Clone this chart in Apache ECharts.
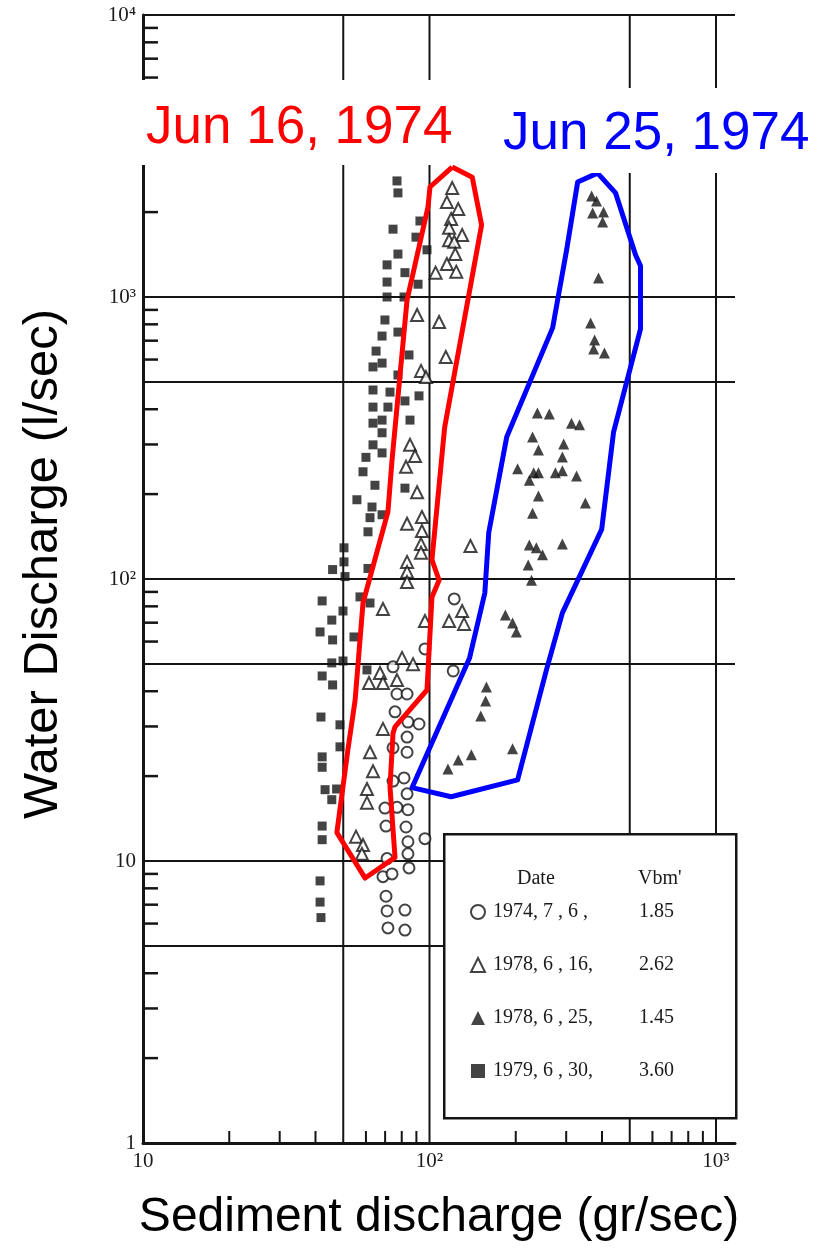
<!DOCTYPE html>
<html>
<head>
<meta charset="utf-8">
<title>Water discharge vs sediment discharge</title>
<script src="https://cdn.jsdelivr.net/npm/echarts@6/dist/echarts.min.js"></script>
<style>
  html, body { margin: 0; padding: 0; background: #fff; }
  #chart { width: 818px; height: 1249px; }
</style>
</head>
<body>
<div id="chart"></div>
<script>
// [sediment discharge gr/sec, water discharge l/sec]
const circles1974 = [[122,85],[96.4,56.5],[121,47.2],[74.6,48.8],[77,39.1],[83.5,39.1],[75.8,33.8],[84.1,31.1],[91.9,30.6],[83.5,27.5],[74.6,25.2],[83.5,24.3],[81.5,19.7],[74.6,19.2],[83.5,17.3],[69.9,15.4],[77,15.5],[84.1,15.2],[70.5,13.3],[82.8,13.2],[96.4,12],[84.1,11.7],[71.1,10.2],[84.1,10.6],[84.8,9.45],[68.8,8.8],[74,9],[70.5,7.5],[71.1,6.65],[82.1,6.7],[71.6,5.79],[82.1,5.69]];
const openTri1978 = [[120,2435],[115,2170],[126,2050],[119,1890],[117,1760],[130,1660],[117,1590],[122,1570],[123,1420],[115,1310],[124,1230],[105,1220],[90.5,863],[108,815],[114,613],[93.4,547],[97.2,520],[85.5,299],[89,273],[82.8,250],[90.5,203],[83.5,157],[94.1,166],[94.1,148],[93.4,133],[93.4,124],[83.5,115],[83.5,106],[83.5,97.5],[68.8,78.3],[96.4,71],[130,77],[117,71],[132,69.3],[80.2,52.5],[87.6,49.9],[67.2,46.4],[61.5,42.8],[68.8,42.8],[77,43.8],[68.8,29.4],[62,24.3],[63.5,20.8],[60.5,18],[60.5,16.1],[55.4,12.2],[58.6,11.4],[58.1,10.6],[139,131]];
const filledTri1978 = [[368,2280],[383,2190],[371,1985],[405,2000],[402,1845],[389,1168],[365,809],[377,704],[374,654],[408,633],[238,388],[262,385],[313,357],[334,352],[229,319],[294,301],[240,287],[291,271],[203,246],[231,238],[240,238],[223,224],[275,238],[291,242],[326,232],[240,197],[350,186],[229,171],[223,132],[236,129],[248,122],[291,133],[221,112],[227,99],[184,74.5],[195,69.8],[201,64.9],[158,41.4],[157,36.9],[151,32.7],[195,25],[140,23.8],[126,22.8],[116,21.2]];
const squares1979 = [[77,2580],[77.6,2340],[92.6,1860],[74.6,1740],[89.7,1630],[98,1470],[77.6,1420],[71.1,1300],[82.1,1220],[71.1,1130],[91.2,1110],[71.1,1000],[81.5,1000],[69.9,829],[77.6,751],[68.3,727],[84.8,623],[65.1,643],[63.5,565],[68.3,583],[77.6,529],[63.5,468],[72.8,460],[82.1,428],[91.9,446],[63.5,407],[71.6,407],[63.5,357],[68.3,366],[85.5,366],[68.3,330],[63.5,299],[68.3,280],[60,270],[58.6,240],[64.5,215],[82.1,210],[55.8,191],[63,180],[68.3,169],[62,165],[61,147],[50.3,129],[50.3,115],[45.9,108],[61,109],[50.7,102],[57.2,86.4],[62,82.2],[49.9,77],[45.6,71.5],[54.5,62.3],[45.9,60.8],[49.9,51.2],[60.5,47.6],[45.6,50.4],[45.9,42.1],[48.7,30.4],[48.7,25.4],[47.4,18],[45.6,16.5],[41.5,8.5],[41.5,7.15],[41.8,6.3],[42.2,83.6],[41.5,64.9],[42.2,45.3],[41.8,32.4],[42.2,23.4],[42.2,21.5],[43.2,17.9],[42.2,13.3],[42.2,11.9]];

// hand-drawn outlines (closed)
const jun16Outline = [[120,2890],[141,2660],[152,1800],[113,346],[111,287],[102,117],[108,99],[102,86.4],[98,40.4],[75.8,29.9],[74.6,28.4],[72.8,18.3],[75.8,10.3],[59.6,8.7],[47.5,12.6],[51.9,24.8],[55,37.2],[58.6,82.2],[71.6,173],[74,264],[83.5,976],[98.8,2085],[100.4,2455],[120,2890]];
const jun25Outline = [[386,2750],[446,2340],[524,1410],[545,1290],[545,770],[439,332],[399,150],[291,75.8],[256,47.6],[203,19.4],[119,16.9],[86.9,18.2],[138,52.5],[156,89.2],[161,146],[186,319],[269,777],[301,1468],[329,2557],[386,2750]];

const seriesDates = ['1974, 7 , 6 ,', '1978, 6 , 16,', '1978, 6 , 25,', '1979, 6 , 30,'];
const seriesVbm = ['1.85', '2.62', '1.45', '3.60'];

const xTickLabels = ['', '10', '10²', '10³'];
const yTickLabels = ['1', '10', '10²', '10³', '10⁴'];
const xMinorTicks = [20, 30, 40, 60, 70, 80, 90, 200, 300, 400, 600, 700, 800, 900];
const yMinorTicks = [2, 3, 4, 6, 7, 8, 9, 20, 30, 40, 60, 70, 80, 90, 200, 300, 400, 600, 700, 800, 900, 2000, 3000, 4000, 6000, 7000, 8000, 9000];
const hGridLines = [5, 10, 50, 100, 500, 1000, 10000];
const vGridLines = [50, 100, 500, 1000];

const X_MIN = 10, X_MAX = 1165, Y_MIN = 1, Y_MAX = 10000;
const INK = '#141414';
const SERIF = '"Liberation Serif", "DejaVu Serif", serif';
const SANS = '"Liberation Sans", Arial, sans-serif';

function powerLabel(labels) {
  return function (v) {
    const e = Math.log10(v);
    const r = Math.round(e);
    if (Math.abs(e - r) > 1e-6) return '';
    return labels[r] || '';
  };
}

function segment(p0, p1, w) {
  return {
    type: 'line',
    shape: { x1: p0[0], y1: p0[1], x2: p1[0], y2: p1[1] },
    style: { stroke: INK, lineWidth: w }
  };
}

const chart = echarts.init(document.getElementById('chart'));

const option = {
  animation: false,
  backgroundColor: '#fff',
  grid: { left: 143, right: 83, top: 15, bottom: 106 },
  title: [
    {
      text: 'Jun 16, 1974', left: 125, top: 80,
      padding: [22, 13, 10, 21], backgroundColor: '#fff', z: 8,
      textStyle: { color: '#ff0000', fontFamily: SANS, fontSize: 53, fontWeight: 'normal' }
    },
    {
      text: 'Jun 25, 1974', left: 490, top: 88,
      padding: [20, 8, 12, 13], backgroundColor: '#fff', z: 8,
      textStyle: { color: '#0000ff', fontFamily: SANS, fontSize: 53, fontWeight: 'normal' }
    }
  ],
  xAxis: {
    type: 'log', logBase: 10, min: X_MIN, max: X_MAX,
    axisLine: { show: true, lineStyle: { color: INK, width: 3 } },
    axisTick: { show: false },
    splitLine: { show: false },
    axisLabel: { formatter: powerLabel(xTickLabels), fontFamily: SERIF, fontSize: 21, color: '#1a1a1a', margin: 8 },
    name: 'Sediment discharge (gr/sec)', nameLocation: 'middle', nameGap: 51,
    nameTextStyle: { fontFamily: SANS, fontSize: 48, color: '#000' }
  },
  yAxis: {
    type: 'log', logBase: 10, min: Y_MIN, max: Y_MAX,
    axisLine: { show: true, lineStyle: { color: INK, width: 3 } },
    axisTick: { show: false },
    splitLine: { show: false },
    axisLabel: { formatter: powerLabel(yTickLabels), fontFamily: SERIF, fontSize: 21, color: '#1a1a1a', margin: 7 },
    name: 'Water Discharge (l/sec)', nameLocation: 'middle', nameGap: 75, nameRotate: 90,
    nameTextStyle: { fontFamily: SANS, fontSize: 49, color: '#000', padding: [0, 0, 0, 30] }
  },
  legend: {
    data: seriesDates, orient: 'vertical', left: 470, top: 902, padding: 0,
    itemGap: 33, itemWidth: 14, itemHeight: 14, selectedMode: false, z: 10,
    formatter: name => '{d|' + name + '}{v|' + seriesVbm[seriesDates.indexOf(name)] + '}',
    textStyle: {
      color: '#222', fontFamily: SERIF, fontSize: 20,
      rich: {
        d: { width: 146, fontFamily: SERIF, fontSize: 20, lineHeight: 20, color: '#1a1a1a', padding: [0, 0, 0, 3] },
        v: { fontFamily: SERIF, fontSize: 20, lineHeight: 20, color: '#1a1a1a' }
      }
    }
  },
  graphic: [
    { type: 'rect', left: 443, top: 833, z: 8, shape: { width: 292, height: 284 }, style: { fill: '#fff', stroke: INK, lineWidth: 2.5 } },
    { type: 'text', left: 517, top: 869, z: 11, style: { text: 'Date', font: '20px ' + SERIF, fill: '#1a1a1a' } },
    { type: 'text', left: 638, top: 869, z: 11, style: { text: "Vbm'", font: '20px ' + SERIF, fill: '#1a1a1a' } }
  ],
  series: [
    {
      name: 'hgrid', type: 'custom', silent: true, z: 1,
      data: hGridLines.map(v => [X_MIN, v]),
      renderItem: (params, api) => segment(api.coord([X_MIN, api.value(1)]), api.coord([X_MAX, api.value(1)]), 2)
    },
    {
      name: 'vgrid', type: 'custom', silent: true, z: 1,
      data: vGridLines.map(v => [v, Y_MIN]),
      renderItem: (params, api) => segment(api.coord([api.value(0), Y_MIN]), api.coord([api.value(0), Y_MAX]), 2)
    },
    {
      name: 'xminor', type: 'custom', silent: true, z: 1,
      data: xMinorTicks.map(v => [v, Y_MIN]),
      renderItem: (params, api) => {
        const p = api.coord([api.value(0), Y_MIN]);
        return segment(p, [p[0], p[1] - 12], 2);
      }
    },
    {
      name: 'yminor', type: 'custom', silent: true, z: 1,
      data: yMinorTicks.map(v => [X_MIN, v]),
      renderItem: (params, api) => {
        const p = api.coord([X_MIN, api.value(1)]);
        return segment(p, [p[0] + 15, p[1]], 2.5);
      }
    },
    {
      name: seriesDates[0], type: 'scatter', data: circles1974, z: 3,
      symbol: 'emptyCircle', symbolSize: 11,
      itemStyle: { color: INK, borderColor: INK, borderWidth: 2 }
    },
    {
      name: seriesDates[1], type: 'scatter', data: openTri1978, z: 3,
      symbol: 'emptyTriangle', symbolSize: 12,
      itemStyle: { color: INK, borderColor: INK, borderWidth: 2 }
    },
    {
      name: seriesDates[2], type: 'scatter', data: filledTri1978, z: 3,
      symbol: 'triangle', symbolSize: 11,
      itemStyle: { color: INK }
    },
    {
      name: seriesDates[3], type: 'scatter', data: squares1979, z: 3,
      symbol: 'rect', symbolSize: 9,
      itemStyle: { color: INK }
    },
    {
      name: 'Jun 16 outline', type: 'line', data: jun16Outline, z: 5,
      symbol: 'none', lineStyle: { color: '#ff0000', width: 5, join: 'round' }
    },
    {
      name: 'Jun 25 outline', type: 'line', data: jun25Outline, z: 5,
      symbol: 'none', lineStyle: { color: '#0000ff', width: 5, join: 'round' }
    }
  ]
};

chart.setOption(option);
window.addEventListener('resize', () => chart.resize());
</script>
</body>
</html>
